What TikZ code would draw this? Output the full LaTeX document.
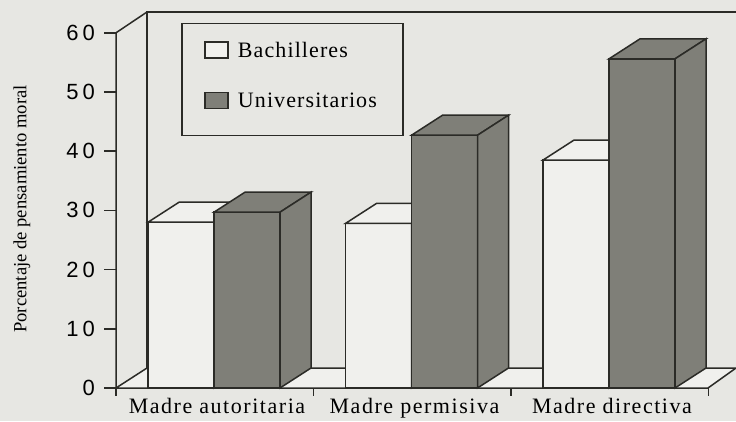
\documentclass[tikz,border=0pt]{standalone}
\usepackage{fontspec}
\setmainfont{Liberation Serif}
\setsansfont{Liberation Sans}
\usepackage{tikz}
\usetikzlibrary{positioning}
\definecolor{fondo}{HTML}{E7E7E3}
\definecolor{claro}{HTML}{F0F0ED}
\definecolor{oscuro}{HTML}{7F7F78}
\definecolor{trazo}{HTML}{2B2B27}
\tikzstyle{chart line}=[draw=trazo,line width=1.5pt,line join=miter]
\tikzstyle{bachiller bar}=[chart line,fill=claro]
\tikzstyle{univ bar}=[chart line,fill=oscuro]
\tikzstyle{tick label}=[anchor=east,inner sep=0pt,font=\fontsize{22}{22}\sffamily\addfontfeature{LetterSpace=18}]
\tikzstyle{category}=[anchor=base,inner sep=0pt,font=\fontsize{22}{22}\selectfont\addfontfeature{LetterSpace=7}]
\tikzstyle{legend text}=[anchor=west,inner sep=0pt,font=\fontsize{22}{22}\selectfont\addfontfeature{LetterSpace=5}]
\tikzstyle{legend box}=[chart line,inner sep=0pt,minimum width=23pt,minimum height=16pt]
\newcommand{\escala}{5.92}
\newcommand{\columna}[4]{
  \draw[#1] (#2,0) rectangle ++(#3,#4*\escala);
  \draw[#1] (#2,#4*\escala) -- ++(31,20) -- ++(#3,0) -- ++(-31,-20) -- cycle;
  \draw[#1] (#2+#3,0) -- ++(31,20) -- ++(0,#4*\escala) -- ++(-31,-20) -- cycle
}
\newcommand{\categoria}[3]{
  \node [category] (#1) at (197.5*#2+101,-25) {#3}
}

\begin{document}
\begin{tikzpicture}[x=1pt,y=1pt,node distance=9pt]
        \useasboundingbox (-116,-33) rectangle (620,388);
        \fill[fondo] (-116,-33) rectangle (620,388);

        \draw[chart line,fill=claro] (0,0) -- (31,20) -- (620,20) -- (592,0) -- cycle;
        \draw[chart line] (31,20) -- (31,376) -- (620,376);
        \draw[chart line] (0,0) -- (0,355.2) -- (31,376);

        \foreach \v in {0,10,...,60}{
            \draw[chart line] (-12,\v*\escala) -- (0,\v*\escala);
            \node[tick label] (t\v) at (-21,\v*\escala) {\v};
        }
        \foreach \i in {0,...,3}
            \draw[chart line] (197.5*\i,0) -- ++(0,-8);

        \node[chart line,inner sep=0pt,minimum width=221pt,minimum height=112pt,anchor=north west] (ley) at (65,365) {};
                \node[legend box,fill=claro] (sq1) at (100.5,338) {};
                \node[legend box,fill=oscuro] (sq2) at (100.5,287.5) {};
                \node[legend text,right=of sq1] (l1) {Bachilleres};
                \node[legend text,right=of sq2] (l2) {Universitarios};

        \foreach \i/\w/\u in {0/28/29.7,1/27.8/42.7,2/38.5/55.6}{
            \columna{bachiller bar}{197.5*\i+32}{66}{\w};
            \columna{univ bar}{197.5*\i+98}{66}{\u};
        }

        \categoria{c1}{0}{Madre autoritaria};
        \categoria{c2}{1}{Madre permisiva};
        \categoria{c3}{2}{Madre directiva};

        \node[rotate=90,font=\fontsize{18.6}{18.6}\selectfont] (ytit) at (-94,179) {Porcentaje de pensamiento moral};
\end{tikzpicture}
\end{document}
